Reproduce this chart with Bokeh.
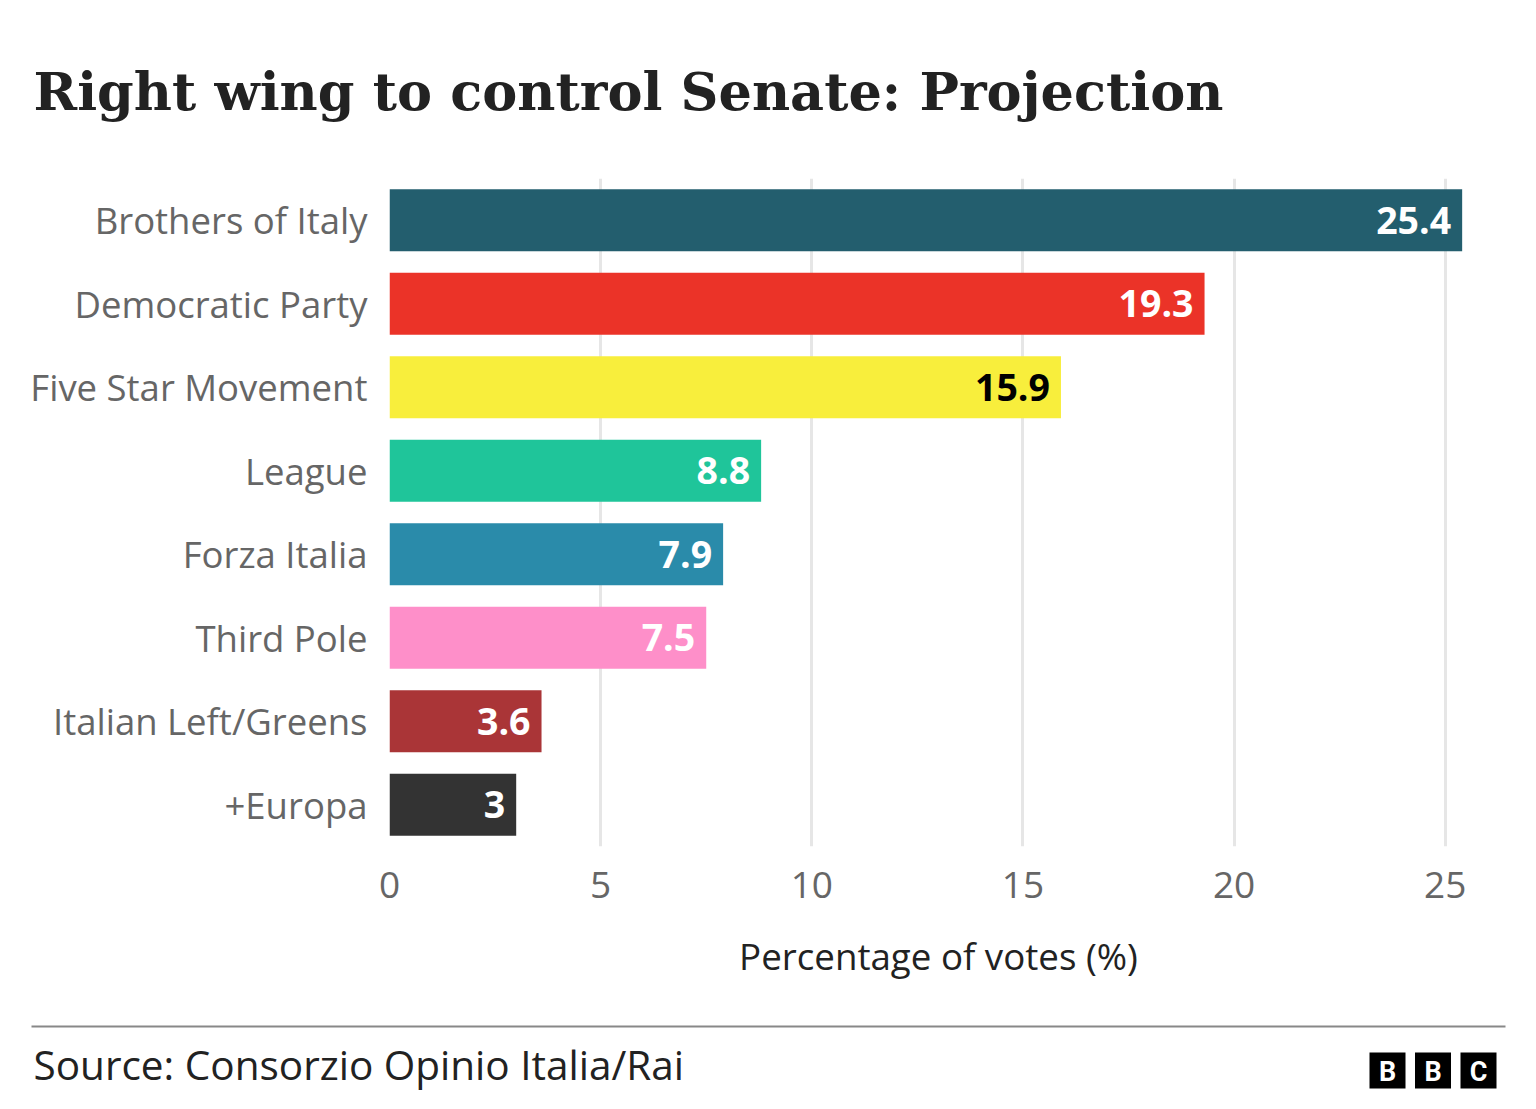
from bokeh.plotting import figure
from bokeh.layouts import column
from bokeh.models import ColumnDataSource, Label, BoxAnnotation, FactorRange, Range1d
from bokeh.core.properties import value
from bokeh.embed import file_html
from bokeh.resources import INLINE

parties = ["Brothers of Italy", "Democratic Party", "Five Star Movement", "League",
           "Forza Italia", "Third Pole", "Italian Left/Greens", "+Europa"]
shares = [25.4, 19.3, 15.9, 8.8, 7.9, 7.5, 3.6, 3]
colors = ["#235E6E", "#EB3328", "#F8EE3C", "#1FC59A", "#2A8BAA", "#FE8FC9", "#AA3537", "#333333"]
label_colors = ["#FFFFFF", "#FFFFFF", "#000000", "#FFFFFF", "#FFFFFF", "#FFFFFF", "#FFFFFF", "#FFFFFF"]
labels = ["25.4", "19.3", "15.9", "8.8", "7.9", "7.5", "3.6", "3"]
x_ticks = [0, 5, 10, 15, 20, 25]

title_text = "Right wing to control Senate: Projection"
x_title = "Percentage of votes (%)"
source_text = "Source: Consorzio Opinio Italia/Rai"
logo_letters = ["B", "B", "C"]

SANS = "Open Sans"
W = 1520
HEAD_H, MAIN_H, FOOT_H = 150, 860, 83


def blank_fig(h):
    f = figure(width=W, height=h, output_backend="svg", toolbar_location=None,
               x_range=Range1d(0, W), y_range=Range1d(h, 0),
               min_border=0, min_border_left=0, min_border_right=0,
               min_border_top=0, min_border_bottom=0, frame_align=False)
    f.axis.visible = False
    f.grid.visible = False
    f.outline_line_color = None
    f.background_fill_color = "white"
    f.border_fill_color = "white"
    return f


# ---- header ----
head = blank_fig(HEAD_H)
head.add_layout(Label(x=33, y=91, text=title_text, text_font="DejaVu Serif",
                      text_font_style="bold", text_font_size="52.5px",
                      text_color="#222222", text_baseline="alphabetic",
                      text_align="left"))

# ---- main chart ----
src = ColumnDataSource(dict(party=parties, share=shares, color=colors,
                            lcolor=label_colors, label=labels))

p = figure(width=W, height=MAIN_H, output_backend="svg", toolbar_location=None,
           y_range=FactorRange(factors=list(reversed(parties)), range_padding=0),
           x_range=Range1d(0, 26), frame_align=False,
           min_border_left=389, min_border_right=33, min_border_top=28,
           min_border_bottom=164)
p.outline_line_color = None
p.background_fill_color = "white"
p.border_fill_color = "white"

p.hbar(y="party", right="share", left=0, height=0.74, color="color", source=src,
       line_color=None)
p.text(x="share", y="party", text="label", source=src, x_offset=-11,
       text_align="right", text_baseline="middle", text_color="lcolor",
       text_font=value(SANS), text_font_style="bold", text_font_size="37.5px")

p.ygrid.grid_line_color = None
p.xgrid.grid_line_color = "#E6E6E6"
p.xgrid.grid_line_width = 3
p.xgrid.ticker = x_ticks
p.xaxis.ticker = x_ticks

for ax in (p.xaxis, p.yaxis):
    ax.axis_line_color = None
    ax.major_tick_line_color = None
    ax.minor_tick_line_color = None
    ax.major_label_text_font = SANS
    ax.major_label_text_color = "#666666"

p.yaxis.major_label_text_font_size = "36.5px"
p.xaxis.major_label_text_font_size = "37px"
p.yaxis.major_label_standoff = 16
p.xaxis.major_label_standoff = 19
p.xaxis.axis_label = x_title
p.xaxis.axis_label_text_font = SANS
p.xaxis.axis_label_text_font_size = "36.7px"
p.xaxis.axis_label_text_font_style = "normal"
p.xaxis.axis_label_text_color = "#222222"
p.xaxis.axis_label_standoff = 30

# ---- footer ----
foot = blank_fig(FOOT_H)
foot.add_layout(BoxAnnotation(left=31, right=1505, top=15, bottom=17,
                              fill_color="#888888", fill_alpha=1, line_color=None))
foot.add_layout(Label(x=33, y=54, text=source_text, text_font=SANS,
                      text_font_size="40.5px", text_color="#222222",
                      text_baseline="middle", text_align="left"))
for i, ch in enumerate(logo_letters):
    left = 1369 + i * 45.5
    foot.add_layout(BoxAnnotation(left=left, right=left + 36, top=42, bottom=78,
                                  fill_color="#000000", fill_alpha=1, line_color=None))
    foot.add_layout(Label(x=left + 18, y=61, text=ch, text_font="Roboto",
                          text_font_style="bold", text_font_size="27px",
                          text_color="#FFFFFF", text_align="center",
                          text_baseline="middle"))

layout = column(head, p, foot, spacing=0)
open("out.html", "w").write(file_html(layout, INLINE))
